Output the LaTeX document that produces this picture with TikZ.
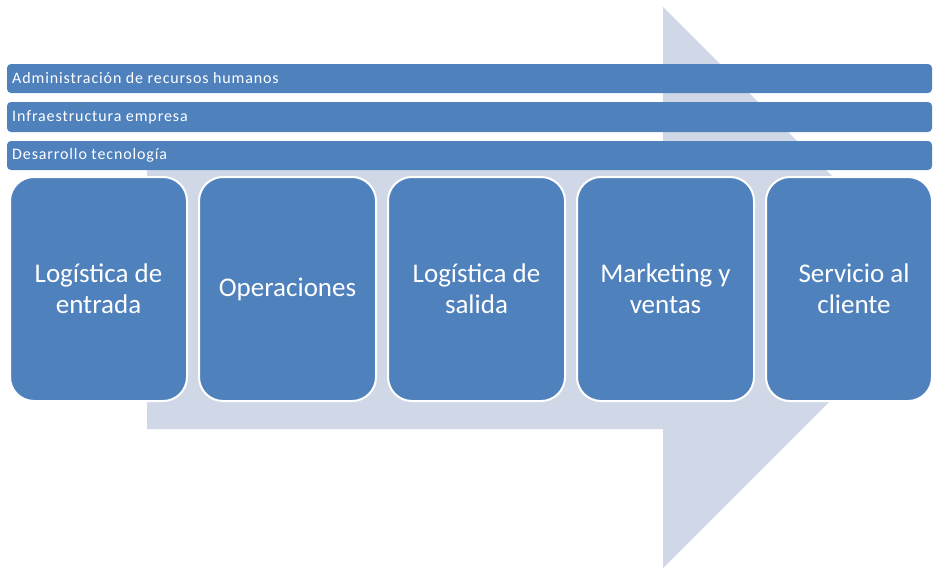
\documentclass[tikz,border=0pt]{standalone}
\usepackage{fontspec}
\setmainfont{Carlito}
\newfontfamily\supportfont[LetterSpace=5.5]{Carlito}
\definecolor{chainblue}{HTML}{4F81BD}
\definecolor{arrowgrey}{HTML}{D0D8E7}
\begin{document}
\begin{tikzpicture}[x=1pt,y=-1pt,
  support/.style={fill=chainblue, rounded corners=4pt, draw=none},
  supportlabel/.style={anchor=west, text=white, font=\supportfont\fontsize{16}{18}\selectfont, inner sep=0pt},
  primary/.style={fill=chainblue, draw=white, line width=2pt, rounded corners=24pt,
    minimum width=177pt, minimum height=224pt, inner sep=0pt, text=white,
    align=center, font=\fontsize{27}{31}\selectfont}]
\useasboundingbox (0,0) rectangle (933,570);
\clip (0,0) rectangle (933,570);

% large background arrow
\fill[arrowgrey] (147,146) -- (663,146) -- (663,7) -- (943.5,287.5)
  -- (663,568) -- (663,429) -- (147,429) -- cycle;

% support activities
\path[support] (7,64) rectangle (932,93);
\path[support] (7,102) rectangle (932,132);
\path[support] (7,141) rectangle (932,170);
\node[supportlabel] (rrhh) at (12,78.5) {Administración de recursos humanos};
\node[supportlabel] (infra) at (12,117) {Infraestructura empresa};
\node[supportlabel] (tec) at (12,155.5) {Desarrollo tecnología};

% primary activities
\node[primary] (log1) at (98.5,289) {Logística de\\entrada};
\node[primary] (ops) at (287.5,289) {Operaciones};
\node[primary] (log2) at (476.5,289) {Logística de\\salida};
\node[primary] (mkt) at (665.5,289) {Marketing y\\ventas};
% last box is narrower; text kept on the regular column centre
\node[primary, minimum width=166pt] (serv) at (849,289)
  {\hspace*{10pt}Servicio al\\\hspace*{10pt}cliente};
\end{tikzpicture}
\end{document}
